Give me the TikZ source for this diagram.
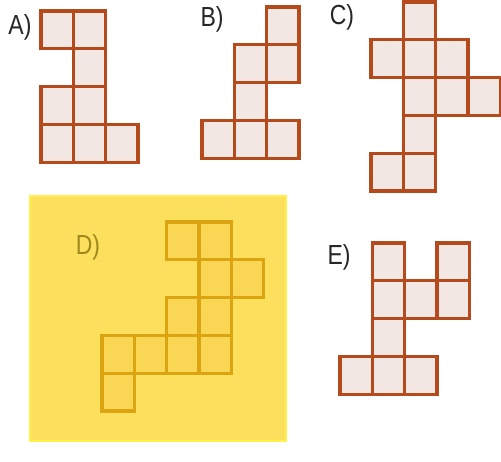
\documentclass[tikz,border=0pt]{standalone}
\usepackage{fontspec}
\setmainfont{Liberation Sans}
\usepackage{xcolor}
\usepackage{graphicx}
\usepackage{tikz}
\definecolor{netline}{HTML}{B54A1C}
\definecolor{netfill}{HTML}{F3E7E4}
\definecolor{hlfill}{HTML}{FDDF5E}
\definecolor{hlborder}{HTML}{FFF04A}
\definecolor{hlline}{HTML}{DBA410}
\definecolor{hlcell}{HTML}{F9D755}
\definecolor{hltext}{HTML}{9E8A1C}
\newcommand{\cw}{32.3}
\newcommand{\ch}{37.8}
\newcommand{\tall}[1]{\scalebox{1}[1.2]{#1}}

\begin{document}
\begin{tikzpicture}[x=1pt, y=-1pt,
  cell/.style  = {draw=netline, fill=netfill, line width=3.2pt, minimum width=\cw pt, minimum height=\ch pt, inner sep=0pt, outer sep=0pt},
  hcell/.style = {cell, draw=hlline, fill=hlcell},
  lbl/.style   = {font=\fontsize{23}{26}\selectfont, text=black!85, inner sep=0pt},
]
\useasboundingbox (0,0) rectangle (501,462);
%%--- highlighted answer panel ---
\draw[draw=hlborder, fill=hlfill, line width=1.6pt] (30,196) rectangle (286,441);
%%--- A) ---
\node[lbl] (la) at (20,27) {\tall{A)}};
\foreach \c/\r in {0/0, 1/0, 1/1, 0/2, 1/2, 0/3, 1/3, 2/3}
  \node[cell] (a\c\r) at ({41+(\c+0.5)*\cw}, {11+(\r+0.5)*\ch}) {};
%%--- B) ---
\node[lbl] (lb) at (212,19) {\tall{B)}};
\foreach \c/\r in {2/0, 1/1, 2/1, 1/2, 0/3, 1/3, 2/3}
  \node[cell] (b\c\r) at ({202+(\c+0.5)*\cw}, {7+(\r+0.5)*\ch}) {};
%%--- C) ---
\node[lbl] (lc) at (342,17) {\tall{C)}};
\foreach \c/\r in {1/0, 0/1, 1/1, 2/1, 1/2, 2/2, 3/2, 1/3, 0/4, 1/4}
  \node[cell] (c\c\r) at ({371+(\c+0.5)*\cw}, {2+(\r+0.5)*\ch}) {};
%%--- D) (highlighted) ---
\node[lbl, text=hltext] (ld) at (88,247) {\tall{D)}};
\foreach \c/\r in {2/0, 3/0, 3/1, 4/1, 2/2, 3/2, 0/3, 1/3, 2/3, 3/3, 0/4}
  \node[hcell] (d\c\r) at ({102+(\c+0.5)*\cw}, {222+(\r+0.5)*\ch}) {};
%%--- E) ---
\node[lbl] (le) at (339,257) {\tall{E)}};
\foreach \c/\r in {1/0, 3/0, 1/1, 2/1, 3/1, 1/2, 0/3, 1/3, 2/3}
  \node[cell] (e\c\r) at ({340+(\c+0.5)*\cw}, {243+(\r+0.5)*\ch}) {};
\end{tikzpicture}
\end{document}
